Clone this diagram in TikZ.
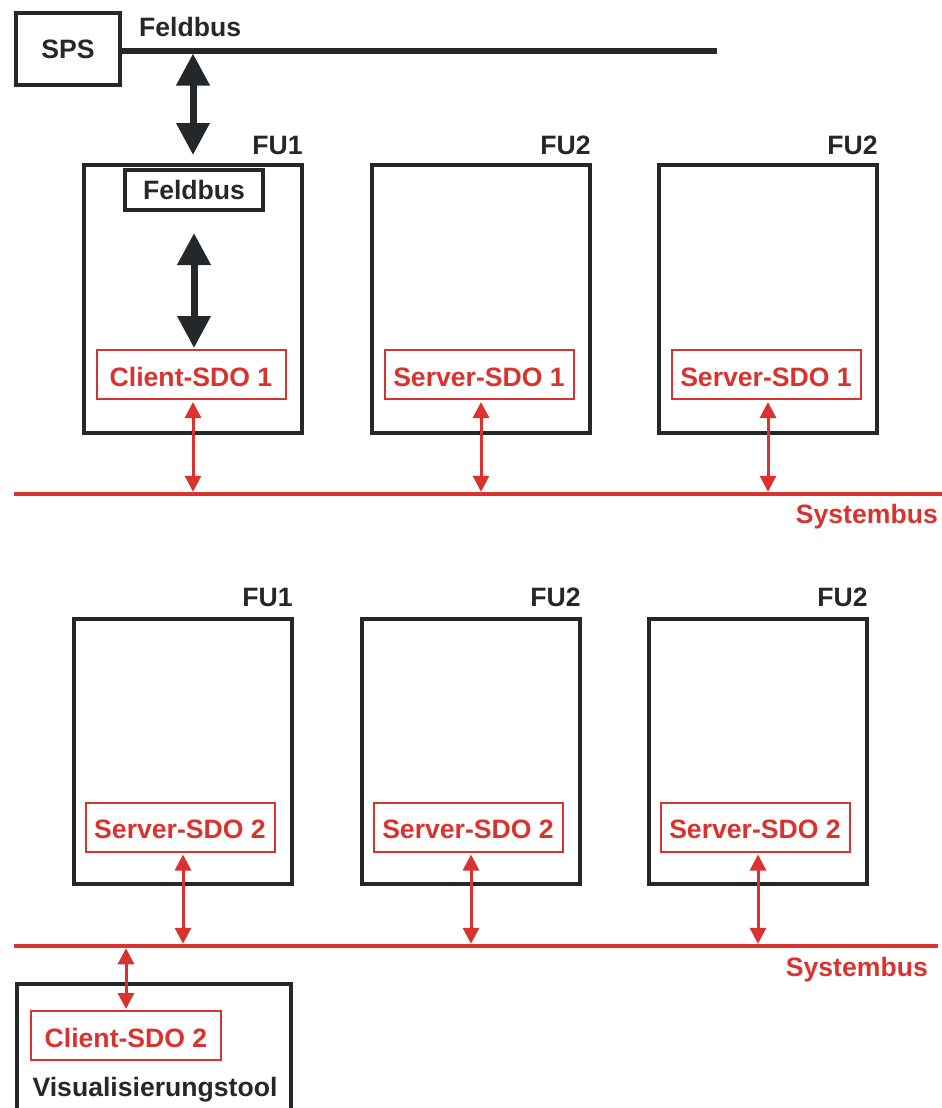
\documentclass[tikz,border=0pt]{standalone}
\usepackage{fontspec}
\setmainfont{Liberation Sans}
\usetikzlibrary{arrows.meta, positioning}
\definecolor{sysred}{RGB}{218,50,46}
\definecolor{ink}{RGB}{37,40,43}

\begin{document}
\begin{tikzpicture}[x=1pt, y=-1pt,
    every node/.style={font=\fontsize{26.6}{30}\selectfont\bfseries, inner sep=0pt},
    fubox/.style={draw=ink, line width=4.5pt, minimum width=218pt},
    sdobox/.style={draw=sysred, line width=2pt, text=sysred, minimum width=189pt, minimum height=49pt, text height=23pt, text depth=0pt},
    fulabel/.style={text=ink, anchor=south east},
    redbus/.style={draw=sysred, line width=4.5pt},
    redarrow/.style={draw=sysred, line width=3pt, {Triangle[width=16pt,length=16pt]}-{Triangle[width=16pt,length=16pt]}},
    blackarrow/.style={draw=ink, line width=7pt, {Triangle[width=32pt,length=32pt]}-{Triangle[width=32pt,length=32pt]}}]
        \path[use as bounding box, clip] (0,0) rectangle (942,1108);

        % Feldbus und SPS
        \node[draw=ink, line width=4pt, minimum width=104pt, minimum height=72pt, text=ink] (sps) at (68,49) {SPS};
        \coordinate (fbusw) at (122,51);
        \coordinate (fbuse) at (717,51);
        \draw[ink, line width=5.5pt] (fbusw) -- (fbuse);
        \node[text=ink, anchor=base west] (fbuslab) at (139,37) {Feldbus};

        % obere Reihe
        \coordinate (sysAw) at (14,494);
        \coordinate (sysAe) at (942,494);
        \foreach \x/\n/\t/\s in {193/1/FU1/Client, 481/2/FU2/Server, 768/3/FU2/Server} {
          \node[fubox, minimum height=268pt] (fuA\n) at (\x,299) {};
          \node[fulabel] (fuAlab\n) at ([xshift=-1.5pt, yshift=7.5pt]fuA\n.north east) {\t};
          \node[sdobox] (sdoA\n) at (\x-2,374.5) {\s-SDO 1};
          \draw[redarrow, shorten <=2pt, shorten >=2.25pt] (sdoA\n.south -| fuA\n.south) -- (fuA\n.south |- sysAw);
        }
        \draw[redbus] (sysAw) -- (sysAe);
        \node[text=sysred, anchor=base east] (sysAlab) at (938,523) {Systembus};

        \node[draw=ink, line width=4pt, minimum width=138pt, minimum height=40pt, text=ink] (fbin) at (194,190) {Feldbus};
        \draw[blackarrow, shorten <=2.5pt, shorten >=7.75pt] (fuA1.north |- fbusw) -- (fuA1.north);
        \draw[blackarrow, shorten <=21pt, shorten >=1pt] (fbin.south) -- (fbin.south |- sdoA1.north);

        % untere Reihe
        \coordinate (sysBw) at (14,946);
        \coordinate (sysBe) at (938,946);
        \foreach \x/\n/\t in {183/1/FU1, 471/2/FU2, 758/3/FU2} {
          \node[fubox, minimum height=265pt] (fuB\n) at (\x,751.5) {};
          \node[fulabel] (fuBlab\n) at ([xshift=-1.5pt, yshift=10pt]fuB\n.north east) {\t};
          \node[sdobox] (sdoB\n) at (\x-3,827) {Server-SDO 2};
          \draw[redarrow, shorten <=2pt, shorten >=2.25pt] (sdoB\n.south -| fuB\n.south) -- (fuB\n.south |- sysBw);
        }
        \draw[redbus] (sysBw) -- (sysBe);
        \node[text=sysred, anchor=base east] (sysBlab) at (928,976) {Systembus};

        % Visualisierungstool
        \node[fubox, minimum width=274pt, minimum height=200pt] (vis) at (154,1084) {};
        \node[sdobox, minimum width=190pt] (sdoC) at (126,1035.5) {Client-SDO 2};
        \node[text=ink, anchor=base] (vislab) at (155,1096) {Visualisierungstool};
        \draw[redarrow, shorten <=2.25pt, shorten >=1pt] (sdoC.north |- sysBw) -- (sdoC.north);
      \end{tikzpicture}
\end{document}
